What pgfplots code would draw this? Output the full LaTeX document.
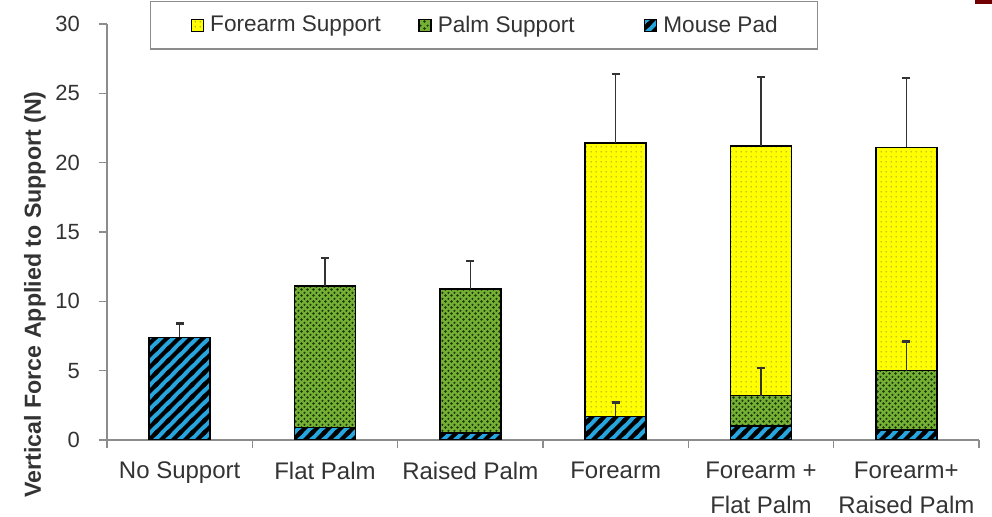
\documentclass[border=0pt]{standalone}
\usepackage{pgfplots}
\pgfplotsset{compat=1.18}
\usepackage{pgfplotstable}
\usepackage{fontspec}
\setmainfont{Liberation Sans}
\usetikzlibrary{patterns}

\definecolor{padblue}{HTML}{27A5DE}
\definecolor{palmgreen}{HTML}{74B034}
\definecolor{palmspeck}{HTML}{1E360B}
\definecolor{armyellow}{HTML}{FFFF00}
\definecolor{armdot}{HTML}{8A8A3A}
\definecolor{axisgray}{HTML}{8C8C8C}
\definecolor{labelgray}{HTML}{333333}

% thick diagonal stripes for the mouse pad
\pgfdeclarepatternformonly{padstripes}{\pgfqpoint{-1pt}{-1pt}}{\pgfqpoint{7pt}{7pt}}{\pgfqpoint{6pt}{6pt}}{%
  \pgfsetlinewidth{2pt}%
  \pgfpathmoveto{\pgfqpoint{-1pt}{-1pt}}\pgfpathlineto{\pgfqpoint{7pt}{7pt}}%
  \pgfpathmoveto{\pgfqpoint{-1pt}{5pt}}\pgfpathlineto{\pgfqpoint{1pt}{7pt}}%
  \pgfpathmoveto{\pgfqpoint{5pt}{-1pt}}\pgfpathlineto{\pgfqpoint{7pt}{1pt}}%
  \pgfusepath{stroke}}
% dense specks for the palm support
\pgfdeclarepatternformonly{palmspecks}{\pgfqpoint{0pt}{0pt}}{\pgfqpoint{3.2pt}{3.2pt}}{\pgfqpoint{3.2pt}{3.2pt}}{%
  \pgfpathcircle{\pgfqpoint{0.8pt}{0.8pt}}{0.72pt}%
  \pgfpathcircle{\pgfqpoint{2.4pt}{2.3pt}}{0.62pt}%
  \pgfusepath{fill}}
% sparse dots for the forearm support
\pgfdeclarepatternformonly{armdots}{\pgfqpoint{0pt}{0pt}}{\pgfqpoint{2.3pt}{2.3pt}}{\pgfqpoint{2.3pt}{2.3pt}}{%
  \pgfpathcircle{\pgfqpoint{1.15pt}{1.15pt}}{0.38pt}%
  \pgfusepath{fill}}

% cumulative bar tops (N): x = condition index, y = top of segment
\pgfplotstableread{
x y
3 21.4
4 21.2
5 21.1
}\forearm
\pgfplotstableread{
x y
1 11.1
2 10.9
4 3.2
5 5.0
}\palm
\pgfplotstableread{
x y
0 7.4
1 0.9
2 0.5
3 1.7
4 1.0
5 0.7
}\mousepad
% standard deviations, drawn upward from the segment tops
\pgfplotstableread{
x y e
0 7.4 1.0
1 11.1 2.0
2 10.9 2.0
3 1.7 1.0
3 21.4 5.0
4 3.2 2.0
4 21.2 5.0
5 5.0 2.1
5 21.1 5.0
}\errors

\begin{document}
\begin{tikzpicture}
\begin{axis}[
  name=ax,
  width=436pt, height=208pt, scale only axis,
  ybar, bar width=30.5pt, bar shift=0pt,
  legend image code/.code={\draw[#1] (0pt,-3pt) rectangle (6pt,3pt);},
  xmin=-0.5, xmax=5.5, ymin=0, ymax=30,
  axis x line*=bottom, axis y line*=left,
  axis line style={draw=axisgray, line width=0.7pt},
  tick align=outside,
  major tick length=4pt, minor tick length=4pt,
  tick style={draw=axisgray, line width=0.6pt},
  xtick={0,...,5},
  major x tick style={draw=none},
  minor xtick={-0.5,0.5,...,5.5},
  xticklabels={No Support, Flat Palm, Raised Palm, Forearm, {Forearm +\\Flat Palm}, {Forearm+\\Raised Palm}},
  xticklabel style={font=\fontsize{12}{17.5}\selectfont, text=labelgray, align=center, yshift=-3.5pt},
  ytick={0,5,...,30},
  yticklabel style={font=\fontsize{11}{13}\selectfont, text=labelgray, xshift=-6pt},
  /pgf/number format/assume math mode=true,
  ylabel={Vertical Force Applied to Support (N)},
  ylabel style={font=\fontsize{11.6}{14}\selectfont\bfseries, text=labelgray,
    at={(axis description cs:-0.0826,0.35)}, anchor=center},
  legend columns=3,
  legend style={at={(0.0493,1.055)}, anchor=north west,
    draw=axisgray, line width=0.6pt, inner xsep=20pt, inner ysep=7pt,
    font=\fontsize{11.3}{13}\selectfont, text=labelgray,
    nodes={inner sep=0pt},
    /tikz/every odd column/.append style={column sep=3pt}},
  error bars/error bar style={draw=black!80, line width=0.8pt, solid},
  error bars/error mark options={rotate=90, mark size=2pt, line width=1.1pt, draw=black!80},
]
\addplot[draw=black, line width=0.8pt, preaction={fill=armyellow},
  pattern=armdots, pattern color=armdot] table[x=x, y=y] {\forearm};
\addlegendentry{\makebox[104pt][l]{Forearm Support}}
\addplot[draw=black, line width=0.8pt, preaction={fill=palmgreen},
  pattern=palmspecks, pattern color=palmspeck] table[x=x, y=y] {\palm};
\addlegendentry{\makebox[103pt][l]{Palm Support}}
\addplot[draw=black, line width=0.8pt, preaction={fill=padblue},
  pattern=padstripes, pattern color=black] table[x=x, y=y] {\mousepad};
\addlegendentry{Mouse Pad}
\addplot[forget plot, draw=none, fill=none,
  error bars/.cd, y dir=plus, y explicit]
  table[x=x, y=y, y error=e] {\errors};
\end{axis}
\fill[color=red!45!black] ([xshift=-2pt,yshift=10pt]ax.north east) rectangle ([xshift=6.5pt,yshift=12pt]ax.north east);
\pgfresetboundingbox
\path[use as bounding box] ([xshift=-53.5pt,yshift=-38.5pt]ax.south west) rectangle ([xshift=6.5pt,yshift=12pt]ax.north east);
\end{tikzpicture}
\end{document}
